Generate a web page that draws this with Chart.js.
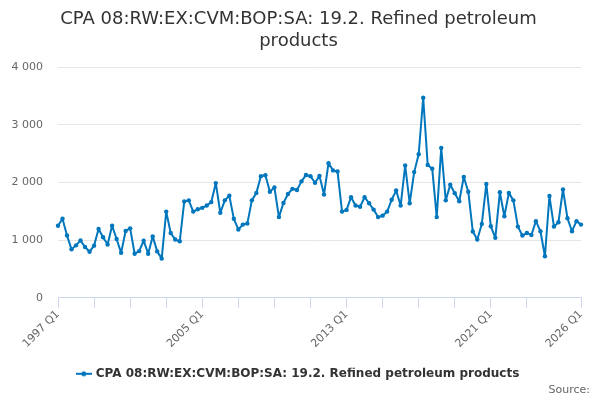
<!DOCTYPE html>
<html>
<head>
<meta charset="utf-8">
<script src="https://cdn.jsdelivr.net/npm/chart.js@4/dist/chart.umd.min.js"></script>
<style>
  html, body { margin: 0; padding: 0; background: #fff; }
  #wrap { width: 600px; height: 400px; }
</style>
</head>
<body>
<div id="wrap"><canvas id="cpaChart" width="600" height="400"></canvas></div>
<script>
// quarters 1997 Q1 .. 2026 Q1
const quarters = [];
for (let y = 1997; y <= 2026; y++) {
    for (let q = 1; q <= 4; q++) {
        if (y === 2026 && q > 1) break;
        quarters.push(y + ' Q' + q);
    }
}

// values, 1997 Q1 onward
const values1997to2004 = [
    1250, 1370, 1080, 840, 910, 995, 880, 800,
    905, 1195, 1050, 925, 1250, 1020, 780, 1160,
    1205, 765, 810, 990, 765, 1065, 805, 680,
    1495, 1125, 1010, 980, 1670, 1690, 1495, 1535
];
const values2005to2012 = [
    1560, 1600, 1660, 1990, 1475, 1690, 1770, 1370,
    1185, 1270, 1290, 1690, 1820, 2110, 2125, 1840,
    1915, 1400, 1645, 1800, 1890, 1870, 2020, 2130,
    2110, 1995, 2115, 1790, 2335, 2210, 2190, 1495
];
const values2013to2020 = [
    1525, 1745, 1600, 1580, 1745, 1640, 1530, 1400,
    1425, 1495, 1700, 1860, 1600, 2295, 1640, 2180,
    2490, 3470, 2305, 2240, 1400, 2600, 1690, 1960,
    1815, 1675, 2095, 1840, 1150, 1010, 1280, 1975
];
const values2021to2026 = [
    1240, 1040, 1830, 1415, 1820, 1690, 1235, 1080,
    1125, 1090, 1330, 1155, 720, 1765, 1235, 1310,
    1880, 1380, 1155, 1330, 1270
];
const seriesValues = [].concat(values1997to2004, values2005to2012, values2013to2020, values2021to2026);

const seriesName = 'CPA 08:RW:EX:CVM:BOP:SA: 19.2. Refined petroleum products';
const titleLines = ['CPA 08:RW:EX:CVM:BOP:SA: 19.2. Refined petroleum', 'products'];
const yTicks = [0, 1000, 2000, 3000, 4000];

const lineColor = '#0076bd';
const font = 'DejaVu Sans';
const lastIdx = quarters.length - 1;

function isMajor(i) {
    return i === lastIdx || (i % 8 === 0 && i < lastIdx - 8);
}

// legend symbol: short line with a dot
const legendMark = document.createElement('canvas');
legendMark.width = 16;
legendMark.height = 8;
(function () {
    const c = legendMark.getContext('2d');
    c.strokeStyle = lineColor;
    c.lineWidth = 2;
    c.beginPath();
    c.moveTo(0, 4);
    c.lineTo(16, 4);
    c.stroke();
    c.fillStyle = lineColor;
    c.beginPath();
    c.arc(8, 4, 2.5, 0, Math.PI * 2);
    c.fill();
})();

const ctx = document.getElementById('cpaChart').getContext('2d');
new Chart(ctx, {
    type: 'line',
    data: {
        labels: quarters,
        datasets: [{
            label: seriesName,
            data: seriesValues,
            borderColor: lineColor,
            backgroundColor: lineColor,
            borderWidth: 2,
            borderJoinStyle: 'round',
            borderCapStyle: 'round',
            pointRadius: 2.2,
            pointBorderWidth: 0,
            pointHoverRadius: 3,
            tension: 0
        }]
    },
    options: {
        responsive: false,
        animation: false,
        layout: { padding: { left: 0, right: 3, top: 4, bottom: 3 } },
        scales: {
            x: {
                offset: false,
                afterFit: (axis) => { axis.height = 70; },
                border: { color: '#ccd6eb' },
                grid: {
                    drawOnChartArea: false,
                    drawTicks: true,
                    tickLength: 10,
                    color: (c) => isMajor(c.index) ? '#ccd6eb' : 'rgba(0,0,0,0)'
                },
                ticks: {
                    autoSkip: false,
                    minRotation: 45,
                    maxRotation: 45,
                    padding: 0,
                    color: '#666',
                    font: { family: font, size: 11 },
                    callback: function (val, i) {
                        return (i === lastIdx || i % 32 === 0) ? quarters[i] : '';
                    }
                }
            },
            y: {
                min: 0,
                max: 4000,
                afterBuildTicks: (axis) => { axis.ticks = yTicks.map(v => ({ value: v })); },
                afterFit: (axis) => { axis.width = 58; },
                border: { display: false },
                grid: { color: '#e6e6e6', drawTicks: false },
                ticks: {
                    padding: 15,
                    color: '#666',
                    font: { family: font, size: 11 },
                    callback: (v) => v === 0 ? '0' : String(v).replace(/\B(?=(\d{3})+(?!\d))/g, ' ')
                }
            },
            // empty right margin so title and legend centre on the whole canvas
            yRight: {
                type: 'linear',
                position: 'right',
                display: true,
                afterFit: (axis) => { axis.width = 16; },
                border: { display: false },
                grid: { display: false },
                ticks: { display: false }
            }
        },
        plugins: {
            title: {
                display: true,
                text: titleLines,
                color: '#333',
                font: { family: font, size: 18, weight: 'normal', lineHeight: 1.2 },
                padding: { top: 5, bottom: 15 }
            },
            legend: {
                position: 'bottom',
                labels: {
                    color: '#333',
                    font: { family: font, size: 12, weight: 'bold' },
                    usePointStyle: true,
                    pointStyle: legendMark,
                    padding: 0
                }
            },
            subtitle: {
                display: true,
                text: 'Source:\u00a0\u00a0',
                position: 'bottom',
                align: 'end',
                color: '#666',
                font: { family: font, size: 11, weight: 'normal' },
                padding: { top: -6, bottom: 0 }
            },
            tooltip: { enabled: false }
        }
    }
});
</script>
</body>
</html>
